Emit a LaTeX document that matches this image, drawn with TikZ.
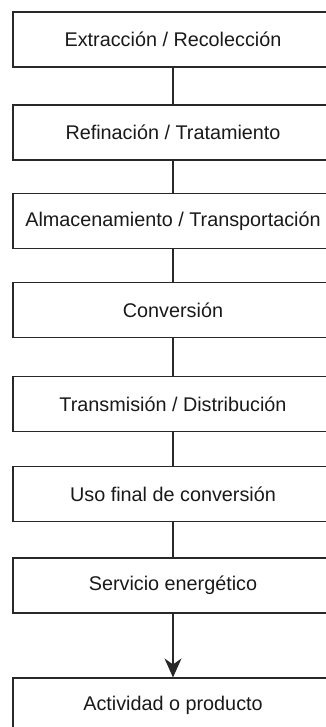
\documentclass[tikz,border=0pt]{standalone}
\usepackage{fontspec}
\setmainfont{Liberation Sans}
\definecolor{boxline}{RGB}{40,40,40}
\definecolor{boxtext}{RGB}{25,25,25}
\usetikzlibrary{arrows.meta}
\tikzset{
  stagebox/.style={draw=boxline, line width=1.1pt, minimum width=320pt, minimum height=55pt,
    inner sep=0pt, text=boxtext, font=\fontsize{19.8}{23}\selectfont},
  link/.style={draw=boxline, line width=1.1pt}
}

\begin{document}
\begin{tikzpicture}[x=1pt, y=-1pt]
  \useasboundingbox (0,0) rectangle (326,727);

  \node [stagebox] at (173,39.5) (extr) {Extracción / Recolección};
  \node [stagebox] at (173,132.5) (refi) {Refinación / Tratamiento};
  \node [stagebox] at (173,221) (alma) {Almacenamiento / Transportación};
  \node [stagebox] at (173,310) (conv) {Conversión};
  \node [stagebox] at (173,404) (trans) {Transmisión / Distribución};
  \node [stagebox] at (173,494) (uso) {Uso final de conversión};
  \node [stagebox] at (173,585.5) (serv) {Servicio energético};
  \node [stagebox] at (173,705.5) (activ) {Actividad o producto};

  \foreach \a/\b in {extr/refi, refi/alma, alma/conv, conv/trans, trans/uso, uso/serv} {
    \draw [link] (\a) -- (\b);
  }
  \draw [link, -{Stealth[length=19pt, width=17pt, inset=6pt]}] (serv) -- (activ);
\end{tikzpicture}
\end{document}
